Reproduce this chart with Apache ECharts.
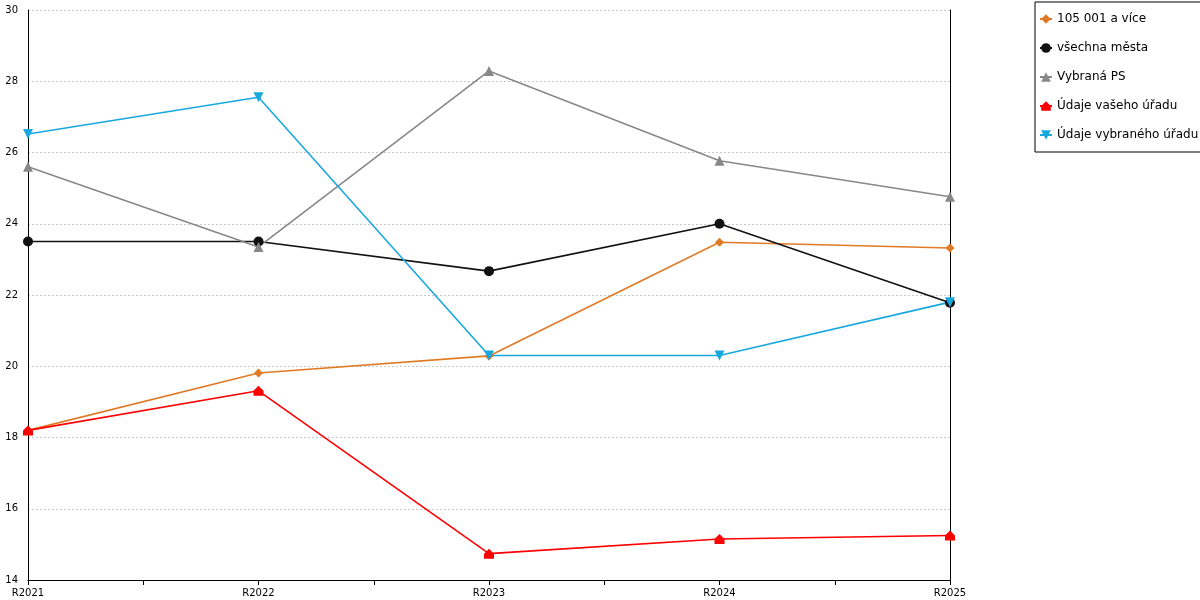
<!DOCTYPE html>
<html>
<head>
<meta charset="utf-8">
<script src="https://cdn.jsdelivr.net/npm/echarts@6/dist/echarts.min.js"></script>
<style>html,body{margin:0;padding:0;background:#fff}#chart{width:1200px;height:600px}</style>
</head>
<body>
<div id="chart"></div>
<script>
var categories = ['R2021', 'R2022', 'R2023', 'R2024', 'R2025'];
var nad105 = [18.2, 19.81, 20.29, 23.48, 23.32];
var vsechnaMesta = [23.5, 23.5, 22.67, 24.0, 21.78];
var vybranaPS = [25.6, 23.35, 28.29, 25.77, 24.76];
var vasUrad = [18.2, 19.31, 14.74, 15.15, 15.25];
var vybranyUrad = [26.52, 27.55, 20.3, 20.3, 21.8];

function pts(arr) {
	return arr.map(function (v, i) { return [i, v]; });
}
function line(name, data, color, symbol, size) {
	return {
		name: name, type: 'line', data: pts(data),
		symbol: symbol, symbolSize: size, showSymbol: true,
		lineStyle: { color: color, width: 1.6 },
		itemStyle: { color: color }
	};
}

var chart = echarts.init(document.getElementById('chart'));
chart.setOption({
	animation: false,
	grid: { left: 28, right: 250, top: 10, bottom: 20 },
	legend: {
		orient: 'vertical', left: 1035, top: 2, width: 150,
		itemGap: 17, itemWidth: 12, itemHeight: 12,
		padding: [11, 10, 11, 4],
		borderColor: '#000', borderWidth: 1,
		textStyle: { fontFamily: 'DejaVu Sans', fontSize: 12, color: '#000' }
	},
	xAxis: {
		type: 'value', min: 0, max: 4, interval: 0.5,
		axisLine: { lineStyle: { color: '#000' } },
		axisTick: { lineStyle: { color: '#000' } },
		splitLine: { show: false },
		axisLabel: {
			fontFamily: 'DejaVu Sans', fontSize: 10, color: '#000',
			formatter: function (v) { return v % 1 === 0 ? categories[v] : ''; }
		}
	},
	yAxis: [{
		type: 'value', min: 14, max: 30, interval: 2,
		axisLine: { show: true, lineStyle: { color: '#000' } },
		axisTick: { show: false },
		axisLabel: { fontFamily: 'DejaVu Sans', fontSize: 10, color: '#000', margin: 10 },
		splitLine: { lineStyle: { color: '#c8c8c8', type: [2, 2] } }
	}, {
		type: 'value', min: 14, max: 30, position: 'right',
		axisLine: { show: true, lineStyle: { color: '#000' } },
		axisTick: { show: false }, axisLabel: { show: false }, splitLine: { show: false }
	}],
	series: [
		line('105 001 a více', nad105, '#e07a24', 'diamond', 9),
		line('všechna města', vsechnaMesta, '#111111', 'circle', 10),
		line('Vybraná PS', vybranaPS, '#888888', 'triangle', 10),
		line('Údaje vašeho úřadu', vasUrad, '#ff0000', 'path://M0,5L5,0L10,5L10,10L0,10Z', 10),
		line('Údaje vybraného úřadu', vybranyUrad, '#18a8e0', 'path://M0,0L10,0L5,10Z', 10)
	]
});
</script>
</body>
</html>
